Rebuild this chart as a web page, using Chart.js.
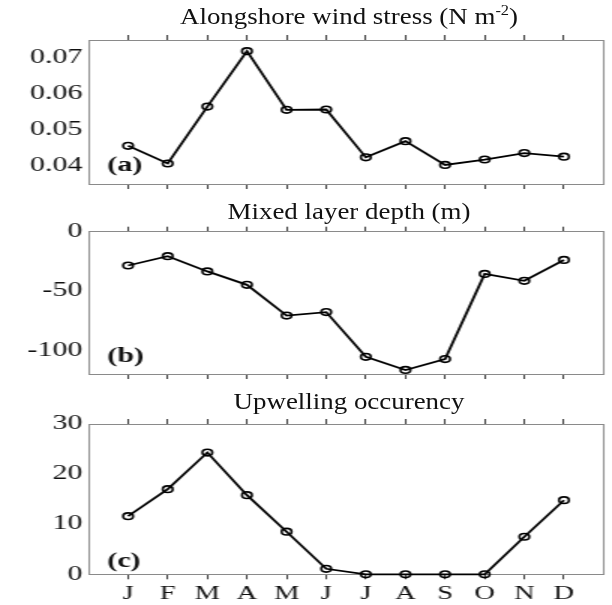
<!DOCTYPE html>
<html>
<head>
<meta charset="utf-8">
<script src="https://cdn.jsdelivr.net/npm/chart.js@4.4.0/dist/chart.umd.min.js"></script>
<style>
    html, body { margin: 0; padding: 0; background: #fff; }
    #fig { position: relative; width: 612px; height: 605px; overflow: hidden; }
    /* the original figure is stretched sideways, so the charts are too */
    .stretch { position: absolute; left: 0; top: 0; width: 408px; height: 605px; transform: scaleX(1.5); transform-origin: 0 0; }
    .panel { position: absolute; left: 0; width: 408px; }
    .title { position: absolute; left: 99px; width: 500px; text-align: center; white-space: nowrap;
             font-family: 'Liberation Serif', 'Times New Roman', serif; font-size: 23px; line-height: 23px;
             color: #111; transform: scaleX(1.17); }
    .sup { font-size: 14px; position: relative; top: -9px; }
</style>
</head>
<body>
<div id="fig">
    <div class="stretch">
        <div class="panel" style="top:0px;height:200px"><canvas id="chartA"></canvas></div>
        <div class="panel" style="top:200px;height:190px"><canvas id="chartB"></canvas></div>
        <div class="panel" style="top:390px;height:215px"><canvas id="chartC"></canvas></div>
    </div>
    <div class="title" style="top:5px">Alongshore wind stress (N m<span class="sup">-2</span>)</div>
    <div class="title" style="top:200px">Mixed layer depth (m)</div>
    <div class="title" style="top:390px">Upwelling occurency</div>
</div>
<script>
// valores
const months = ['J', 'F', 'M', 'A', 'M', 'J', 'J', 'A', 'S', 'O', 'N', 'D'];
const windStress = [0.0456, 0.0407, 0.0565, 0.0719, 0.0556, 0.0557, 0.0424, 0.0469, 0.0403, 0.0418, 0.0436, 0.0426];
const mixedLayer = [-28.5, -20.6, -33.5, -44.8, -70.7, -67.8, -105.5, -116.6, -107.4, -35.6, -41.4, -23.8];
const upwelling = [11.6, 17.0, 24.3, 15.8, 8.5, 1.1, 0, 0, 0, 0, 7.5, 14.8];

const windTicks = [0.04, 0.05, 0.06, 0.07];
const mldTicks = [-100, -50, 0];
const upwTicks = [0, 10, 20, 30];

const serif = "'Liberation Serif', 'Times New Roman', serif";
const textColor = '#111';
const lineColor = '#000';
const boxColor = '#8a8a8a';
const tickColor = '#333';

// etiqueta (a), (b), (c) abajo a la izquierda
const panelLabel = {
    id: 'panelLabel',
    afterDraw(chart, args, o) {
        const { ctx, chartArea } = chart;
        ctx.save();
        ctx.font = 'bold 20px ' + serif;
        ctx.fillStyle = textColor;
        ctx.textBaseline = 'alphabetic';
        ctx.fillText(o.text, chartArea.left + o.dx, chartArea.bottom - o.dy);
        ctx.restore();
    }
};

function monthTicks(scale) {
    scale.ticks = months.map((m, i) => ({ value: i + 1 }));
}

function createPanel(canvasId, values, cfg) {
    const xGrid = { display: true, drawOnChartArea: false, drawTicks: true, tickLength: 5, color: tickColor, lineWidth: 1 };
    return new Chart(document.getElementById(canvasId), {
        type: 'line',
        data: {
            datasets: [{
                data: values.map((v, i) => ({ x: i + 1, y: v })),
                borderColor: lineColor,
                borderWidth: 1.8,
                pointRadius: 3.3,
                pointBorderWidth: 1.6,
                pointBorderColor: lineColor,
                pointBackgroundColor: 'rgba(0,0,0,0)',
                tension: 0,
                clip: false
            }]
        },
        options: {
            responsive: true,
            maintainAspectRatio: false,
            animation: false,
            layout: { padding: { top: cfg.padTop, right: 1.3, left: 0, bottom: 0 } },
            plugins: {
                legend: { display: false },
                tooltip: { enabled: false },
                panelLabel: { text: cfg.label, dx: 12.5, dy: cfg.labelDy }
            },
            scales: {
                x: {
                    type: 'linear', position: 'bottom', min: 0, max: 13,
                    afterBuildTicks: monthTicks,
                    afterFit: s => { s.height = cfg.xHeight; },
                    grid: xGrid,
                    border: { display: true, color: boxColor, width: 1 },
                    ticks: {
                        display: cfg.showMonths, autoSkip: false, maxRotation: 0, padding: 3,
                        color: textColor, font: { family: serif, size: 19 },
                        callback: v => months[v - 1]
                    }
                },
                x2: {
                    type: 'linear', position: 'top', min: 0, max: 13,
                    afterBuildTicks: monthTicks,
                    afterFit: s => { s.height = 0; },
                    grid: xGrid,
                    border: { display: true, color: boxColor, width: 1 },
                    ticks: { display: false }
                },
                y: {
                    min: cfg.yMin, max: cfg.yMax,
                    afterBuildTicks: s => { s.ticks = cfg.yTicks.map(v => ({ value: v })); },
                    afterFit: s => { s.width = 59; },
                    grid: { display: false, drawTicks: false },
                    border: { display: true, color: boxColor, width: 1 },
                    ticks: {
                        padding: 4, color: textColor, font: { family: serif, size: 20 },
                        callback: v => cfg.fmt(v)
                    }
                },
                y2: {
                    position: 'right',
                    afterFit: s => { s.width = 0; },
                    grid: { display: false, drawTicks: false },
                    border: { display: true, color: boxColor, width: 1 },
                    ticks: { display: false }
                }
            }
        },
        plugins: [panelLabel]
    });
}

createPanel('chartA', windStress, {
    yMin: 0.035, yMax: 0.075, yTicks: windTicks, fmt: v => v.toFixed(2),
    padTop: 40, xHeight: 8, showMonths: false, label: '(a)', labelDy: 12.7
});
createPanel('chartB', mixedLayer, {
    yMin: -120, yMax: 0, yTicks: mldTicks, fmt: v => String(v),
    padTop: 31.7, xHeight: 7.3, showMonths: false, label: '(b)', labelDy: 12
});
createPanel('chartC', upwelling, {
    yMin: 0, yMax: 30, yTicks: upwTicks, fmt: v => String(v),
    padTop: 34, xHeight: 30.7, showMonths: true, label: '(c)', labelDy: 7.6
});
</script>
</body>
</html>
